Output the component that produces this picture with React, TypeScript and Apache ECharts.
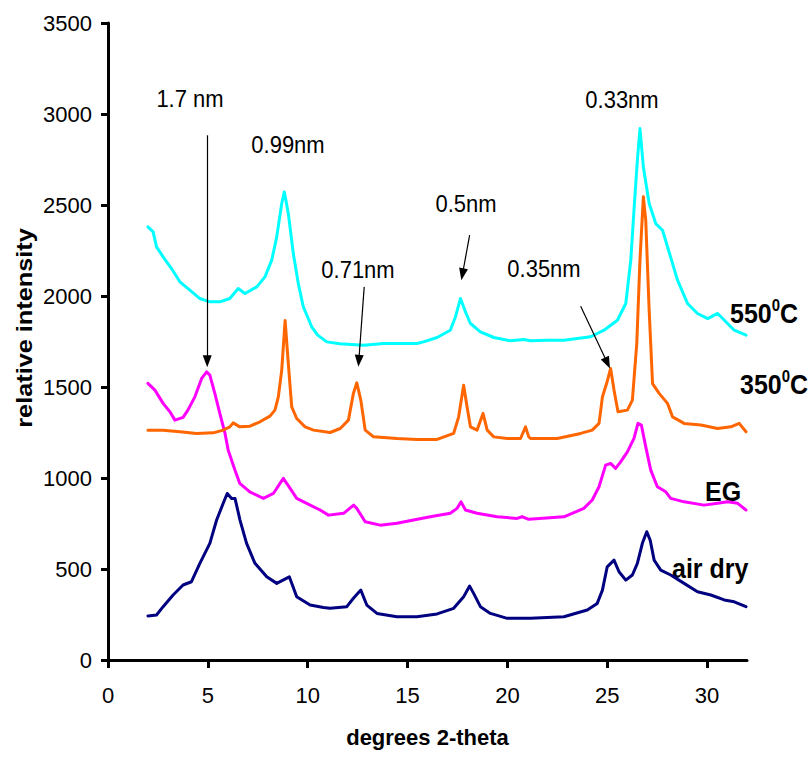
import React, { useEffect, useRef } from "react";
import * as echarts from "echarts";

const xTicks = [0, 5, 10, 15, 20, 25, 30];

const air550: number[][] = [
  [2.0, 2380], [2.26, 2352], [2.43, 2270], [2.76, 2215], [3.18, 2151], [3.6, 2078], [4.1, 2032], [4.6, 1986],
  [5.1, 1968], [5.6, 1968], [6.1, 1986], [6.52, 2041], [6.86, 2014], [7.45, 2050], [7.86, 2105], [8.2, 2197],
  [8.45, 2325], [8.7, 2508], [8.83, 2572], [9.03, 2453], [9.28, 2233], [9.53, 2069], [9.78, 1941], [10.2, 1831],
  [10.5, 1785], [10.96, 1748], [11.6, 1738], [12.8, 1730], [13.8, 1739], [14.47, 1739], [15.47, 1739], [15.8, 1748],
  [16.48, 1772], [17.14, 1812], [17.4, 1885], [17.65, 1986], [17.9, 1913], [18.15, 1849], [18.65, 1803], [19.32, 1772],
  [20.16, 1754], [20.82, 1761], [21.16, 1754], [22.0, 1757], [22.83, 1757], [24.17, 1776], [24.84, 1812], [25.51, 1867],
  [25.93, 1959], [26.18, 2197], [26.34, 2471], [26.51, 2746], [26.64, 2920], [26.81, 2709], [27.1, 2508], [27.43, 2398],
  [27.77, 2361], [28.02, 2270], [28.52, 2087], [29.02, 1959], [29.52, 1904], [30.03, 1876], [30.36, 1895], [30.53, 1904],
  [30.78, 1876], [31.36, 1812], [31.95, 1785],
];

const heated350: number[][] = [
  [2.0, 1263], [2.76, 1263], [3.6, 1254], [4.44, 1245], [5.27, 1248], [5.77, 1263], [6.1, 1281], [6.27, 1303],
  [6.6, 1281], [7.11, 1285], [7.61, 1309], [8.11, 1340], [8.36, 1373], [8.53, 1446], [8.7, 1593], [8.87, 1865],
  [9.03, 1629], [9.2, 1391], [9.45, 1327], [9.87, 1281], [10.29, 1263], [11.12, 1250], [11.63, 1272], [12.04, 1318],
  [12.29, 1465], [12.46, 1523], [12.66, 1428], [12.88, 1263], [13.3, 1226], [14.47, 1217], [15.47, 1212], [16.48, 1212],
  [17.31, 1245], [17.56, 1336], [17.81, 1510], [17.98, 1391], [18.15, 1281], [18.48, 1263], [18.78, 1355], [18.99, 1263],
  [19.32, 1226], [19.99, 1217], [20.66, 1217], [20.91, 1281], [21.07, 1226], [21.16, 1217], [22.5, 1217], [23.67, 1245],
  [24.25, 1263], [24.59, 1300], [24.76, 1446], [24.97, 1519], [25.17, 1602], [25.34, 1483], [25.54, 1364], [26.01, 1373],
  [26.26, 1428], [26.48, 1739], [26.64, 2197], [26.81, 2545], [26.93, 2416], [27.1, 1922], [27.27, 1519], [27.6, 1465],
  [28.02, 1410], [28.27, 1336], [28.85, 1300], [29.69, 1291], [30.53, 1272], [31.19, 1281], [31.61, 1300], [31.95, 1254],
];

const glycol: number[][] = [
  [2.0, 1520], [2.35, 1483], [2.76, 1410], [3.1, 1364], [3.35, 1318], [3.76, 1333], [4.0, 1373], [4.35, 1446],
  [4.69, 1547], [4.94, 1583], [5.1, 1565], [5.35, 1465], [5.6, 1355], [5.86, 1245], [6.02, 1153], [6.36, 1043],
  [6.6, 970], [7.1, 924], [7.78, 888], [8.28, 915], [8.78, 998], [9.12, 943], [9.45, 888], [9.95, 861],
  [10.62, 824], [11.04, 796], [11.8, 806], [12.3, 851], [12.46, 833], [12.88, 760], [13.63, 741], [14.47, 751],
  [15.3, 769], [16.14, 787], [17.14, 806], [17.48, 833], [17.68, 869], [17.9, 824], [18.48, 806], [19.49, 787],
  [20.49, 778], [20.74, 787], [21.07, 773], [22.83, 787], [23.83, 833], [24.25, 879], [24.59, 952], [24.92, 1071],
  [25.17, 1080], [25.42, 1053], [25.67, 1089], [26.01, 1144], [26.34, 1218], [26.54, 1300], [26.71, 1291], [26.93, 1171],
  [27.18, 1043], [27.51, 952], [27.93, 924], [28.18, 888], [28.85, 869], [29.85, 851], [30.53, 861], [31.03, 869],
  [31.53, 861], [31.95, 824],
];

const airDry: number[][] = [
  [2.0, 242], [2.43, 247], [2.76, 293], [3.26, 357], [3.76, 412], [4.18, 430], [4.6, 531], [5.1, 641],
  [5.44, 769], [5.77, 861], [5.97, 915], [6.19, 888], [6.36, 888], [6.61, 769], [6.94, 641], [7.36, 531],
  [7.95, 457], [8.45, 421], [9.08, 457], [9.45, 348], [10.12, 302], [10.79, 289], [11.12, 284], [11.96, 293],
  [12.29, 339], [12.66, 384], [12.96, 302], [13.47, 256], [14.47, 238], [15.47, 238], [16.48, 253], [17.31, 284],
  [17.81, 348], [18.11, 406], [18.31, 366], [18.65, 293], [19.15, 256], [19.99, 229], [21.16, 229], [22.83, 238],
  [24.0, 275], [24.5, 311], [24.76, 384], [25.0, 512], [25.34, 549], [25.59, 485], [25.93, 439], [26.26, 467],
  [26.51, 531], [26.76, 641], [26.98, 705], [27.15, 659], [27.35, 549], [27.68, 494], [28.18, 467], [28.85, 421],
  [29.52, 375], [30.19, 357], [30.86, 330], [31.36, 320], [31.95, 293],
];

// annotation arrows: [x0, y0, x1, y1] in data units
const arrowLines: number[][] = [
  [4.97, 2883, 4.97, 1642],
  [12.83, 2050, 12.56, 1644],
  [18.11, 2334, 17.75, 2119],
  [23.67, 1944, 25.01, 1632],
];

const FONT = "'Liberation Sans', Arial, Helvetica, sans-serif";

export default function App() {
  const ref = useRef<HTMLDivElement>(null);
  useEffect(() => {
    if (!ref.current) return;
    const chart = echarts.init(ref.current, undefined, { renderer: "svg" });

    const mkLine = (name: string, data: number[][], color: string, extra: any = {}) => ({
      name,
      type: "line",
      data,
      showSymbol: false,
      symbol: "none",
      lineStyle: { color, width: 3, join: "round", cap: "round" },
      itemStyle: { color },
      z: 2,
      ...extra,
    });

    const annText = (text: string, x: number, y: number) => ({
      type: "text",
      x,
      y,
      scaleY: 1.12,
      style: {
        text,
        fill: "#000",
        fontSize: 22,
        fontFamily: FONT,
        align: "center",
        verticalAlign: "middle",
      },
    });

    const richLabel = (body: string, sup: string | null, x: number, y: number) => ({
      type: "text",
      x,
      y,
      scaleY: 1.1,
      style: {
        text: sup ? `{n|${body}}{s|${sup}}{n|C}` : `{n|${body}}`,
        fill: "#000",
        fontSize: 25,
        fontWeight: "bold",
        fontFamily: FONT,
        align: "left",
        verticalAlign: "middle",
        rich: {
          n: { fontSize: 25, fontWeight: "bold", fontFamily: FONT, fill: "#000", lineHeight: 28, verticalAlign: "bottom" },
          s: { fontSize: 15, fontWeight: "bold", fontFamily: FONT, fill: "#000", lineHeight: 28, verticalAlign: "top" },
        },
      },
    });

    const option: any = {
      animation: false,
      backgroundColor: "#fff",
      grid: { left: 108, right: 65, top: 23, bottom: 98, containLabel: false },
      xAxis: {
        type: "value",
        min: 0,
        max: 32,
        interval: 5,
        axisLine: { show: true, lineStyle: { color: "#000", width: 3 } },
        axisTick: { show: true, length: 8, lineStyle: { color: "#000", width: 3 }, customValues: xTicks },
        axisLabel: { customValues: xTicks, fontSize: 22, color: "#000", fontFamily: FONT, margin: 24, formatter: (v: number) => String(v) },
        splitLine: { show: false },
        name: "degrees 2-theta",
        nameLocation: "middle",
        nameGap: 66,
        nameTextStyle: { fontSize: 22, fontWeight: "bold", color: "#000", fontFamily: FONT },
      },
      yAxis: {
        type: "value",
        min: 0,
        max: 3500,
        interval: 500,
        axisLine: { show: true, lineStyle: { color: "#000", width: 3 } },
        axisTick: { show: true, length: 7, lineStyle: { color: "#000", width: 3 } },
        axisLabel: { fontSize: 22, color: "#000", fontFamily: FONT, margin: 16, formatter: (v: number) => String(v) },
        splitLine: { show: false },
      },
      series: [
        mkLine("air dry", airDry, "#000080", {
          markLine: {
            silent: true,
            symbol: ["none", "triangle"],
            symbolSize: [9, 12],
            lineStyle: { color: "#000", width: 1.2, type: "solid" },
            itemStyle: { color: "#000" },
            label: { show: false },
            emphasis: { disabled: true },
            data: arrowLines.map((a) => [{ coord: [a[0], a[1]] }, { coord: [a[2], a[3]] }]),
            z: 5,
          },
        }),
        mkLine("EG", glycol, "#FF00FF"),
        mkLine("350", heated350, "#FF6600"),
        mkLine("550", air550, "#00FFFF"),
      ],
      graphic: [
        {
          type: "text",
          x: 25,
          y: 328,
          rotation: Math.PI / 2,
          scaleX: 1.15,
          style: {
            text: "relative intensity",
            fill: "#000",
            fontSize: 22,
            fontWeight: "bold",
            fontFamily: FONT,
            align: "center",
            verticalAlign: "middle",
          },
        },
        annText("1.7 nm", 190, 99),
        annText("0.99nm", 288, 145),
        annText("0.71nm", 358, 270),
        annText("0.5nm", 466, 204),
        annText("0.35nm", 544, 269),
        annText("0.33nm", 622, 100),
        richLabel("550", "0", 730, 312),
        richLabel("350", "0", 740, 383),
        richLabel("EG", null, 705, 490),
        richLabel("air dry", null, 672, 567),
      ],
    };
    chart.setOption(option);
    return () => chart.dispose();
  }, []);
  return (
    <div
      ref={ref}
      style={{ position: "absolute", left: 0, top: 0, width: 812, height: 758, background: "#fff" }}
    />
  );
}
